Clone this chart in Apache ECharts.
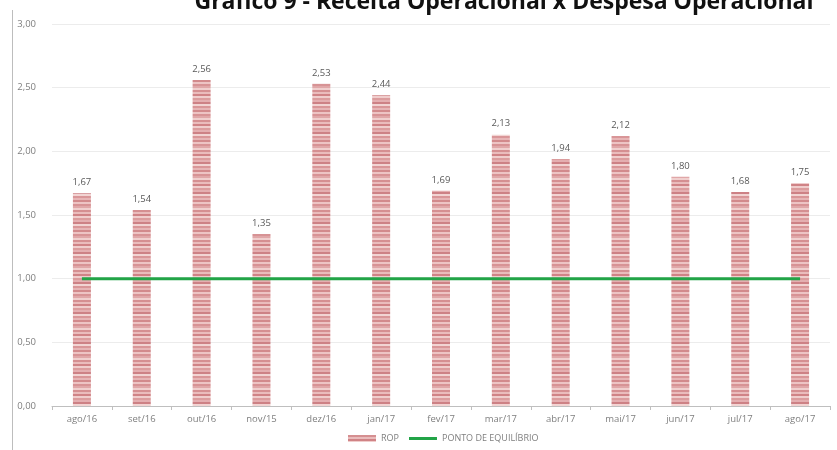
<!DOCTYPE html>
<html>
<head>
<meta charset="utf-8">
<script src="https://cdn.jsdelivr.net/npm/echarts@6/dist/echarts.min.js"></script>
<style>
  html, body { margin: 0; padding: 0; background: #fff; }
  #chart { width: 837px; height: 450px; }
</style>
</head>
<body>
<div id="chart"></div>
<script>
// Monthly operating ratio (ROP) against the break-even point
const categories = ['ago/16', 'set/16', 'out/16', 'nov/15', 'dez/16', 'jan/17', 'fev/17', 'mar/17', 'abr/17', 'mai/17', 'jun/17', 'jul/17', 'ago/17'];
const ropValues = [1.67, 1.54, 2.56, 1.35, 2.53, 2.44, 1.69, 2.13, 1.94, 2.12, 1.80, 1.68, 1.75];
const breakEven = [1, 1, 1, 1, 1, 1, 1, 1, 1, 1, 1, 1, 1];
const yTicks = [0, 0.5, 1, 1.5, 2, 2.5, 3];

const fmt = v => v.toFixed(2).replace('.', ',');

// Striped fill for the bars (horizontal bands of pink/red)
function stripePattern() {
  const c = document.createElement('canvas');
  c.width = 4; c.height = 30;
  const ctx = c.getContext('2d');
  const bands = ['#d58f91', '#eabcbc', '#d08386', '#f0cdcc', '#db9c9d', '#e4aeb0', '#cd8185', '#f2d4d3', '#d99698', '#e7b5b6', '#d28a8c', '#edc4c4', '#d79395', '#e0a7a8', '#f0cfce'];
  bands.forEach((col, i) => {
    ctx.fillStyle = col;
    ctx.fillRect(0, i * 2, 4, 2);
  });
  return c;
}

const chart = echarts.init(document.getElementById('chart'), null, { renderer: 'canvas' });
chart.setOption({
  animation: false,
  backgroundColor: '#fff',
  textStyle: { fontFamily: 'Open Sans, Liberation Sans, sans-serif' },
  grid: { left: 52, right: 7, top: 24, bottom: 44 },
  graphic: [
    {
      type: 'text', silent: true,
      style: {
        x: 504, y: 14, text: 'Gráfico 9 - Receita Operacional x Despesa Operacional',
        font: 'bold 23px "Open Sans", "Liberation Sans", sans-serif', fill: '#111',
        align: 'center', verticalAlign: 'bottom'
      }
    },
    {
      type: 'line', silent: true,
      shape: { x1: 12.5, y1: 10, x2: 12.5, y2: 450 },
      style: { stroke: '#bdbdbd', lineWidth: 1 }
    }
  ],
  legend: {
    bottom: 2, left: 343,
    itemWidth: 28, itemHeight: 7, itemGap: 10,
    textStyle: { color: '#7f7f7f', fontSize: 9 },
    data: [
      { name: 'ROP', icon: 'rect' },
      { name: 'PONTO DE EQUILÍBRIO', icon: 'path://M0,0h28v3h-28z' }
    ]
  },
  xAxis: {
    type: 'category',
    data: categories,
    axisLine: { lineStyle: { color: '#bfbfbf' } },
    axisTick: { show: true, length: 4, lineStyle: { color: '#bfbfbf' } },
    axisLabel: { color: '#7f7f7f', fontSize: 9.5, margin: 8 }
  },
  yAxis: {
    type: 'value',
    min: yTicks[0], max: yTicks[yTicks.length - 1], interval: 0.5,
    axisLine: { show: false },
    axisTick: { show: false },
    axisLabel: { color: '#7f7f7f', fontSize: 9.5, margin: 16, formatter: v => fmt(v) },
    splitLine: { lineStyle: { color: '#ececec' } }
  },
  series: [
    {
      name: 'ROP',
      type: 'bar',
      data: ropValues,
      barWidth: 18,
      itemStyle: { color: { image: stripePattern(), repeat: 'repeat' } },
      label: {
        show: true, position: 'top', distance: 6,
        color: '#595959', fontSize: 9.5,
        formatter: p => fmt(p.value)
      }
    },
    {
      name: 'PONTO DE EQUILÍBRIO',
      type: 'line',
      data: breakEven,
      symbol: 'none',
      lineStyle: { color: '#22a447', width: 3 },
      itemStyle: { color: '#22a447' },
      z: 3
    }
  ]
});
</script>
</body>
</html>
